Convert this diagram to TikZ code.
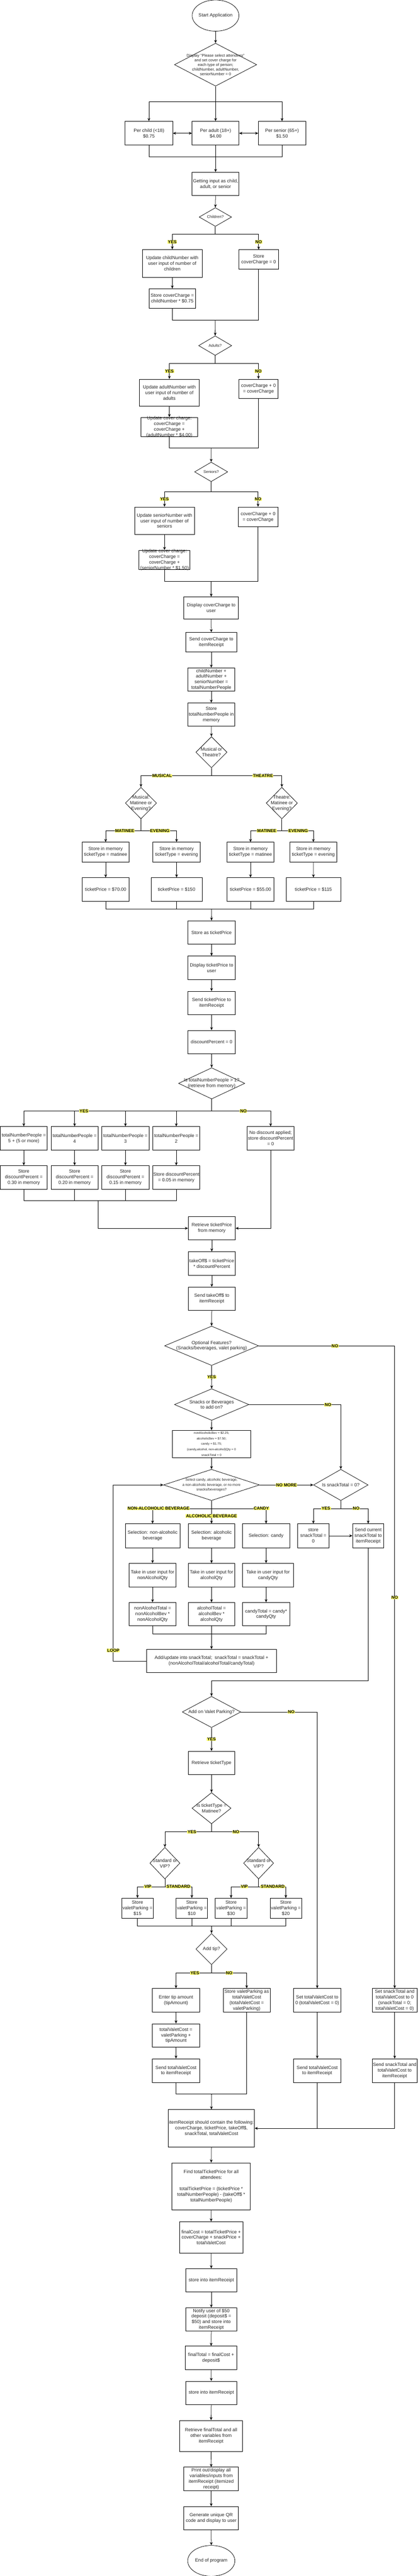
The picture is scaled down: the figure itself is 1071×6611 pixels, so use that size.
\documentclass[tikz,border=0pt]{standalone}
\usepackage{fontspec}
\setmainfont{Liberation Sans}
\usetikzlibrary{arrows.meta,shapes.geometric}
\definecolor{hilite}{RGB}{255,255,102}

\begin{document}
\begin{tikzpicture}[x=1pt, y=-1pt, line width=1pt,
  every node/.style={text=black!85},
  box/.style n args={2}{draw=black, rectangle, minimum width=#1, minimum height=#2, inner sep=0pt, align=center, font=\fontsize{12}{14.4}\selectfont},
  dec/.style n args={2}{draw=black, diamond, minimum width=#1, minimum height=#2, inner sep=0pt},
  oval/.style n args={2}{draw=black, ellipse, minimum width=#1, minimum height=#2, inner sep=0pt},
  txt/.style={align=center, inner sep=0pt, font=\fontsize{12}{14.4}\selectfont},
  small/.style={font=\fontsize{10}{12}\selectfont},
  lbl/.style={fill=hilite, text=black, inner xsep=1pt, inner ysep=0.5pt, font=\bfseries\fontsize{11}{13}\selectfont},
  arr/.style={-{Stealth[length=8pt, width=7pt]}},
  dbl/.style={{Stealth[length=8pt, width=7pt]}-{Stealth[length=8pt, width=7pt]}}
]
\path[use as bounding box, fill=white] (0,0) rectangle (1071,6611);

% cover charge
\node[oval={120}{80}, label={[txt]center:Start Application}] (st) at (553,40) {};
\node[dec={211}{110}, label={[txt,small]center:Display "Please select attendees"\\and set cover charge for\\each type of person;\\childNumber, adultNumber,\\seniorNumber = 0}] (d1) at (553,166) {};
\node[box={122}{61}] (pc) at (382,342) {Per child (<18)\\\$0.75};
\node[box={120}{61}] (pa) at (553,342) {Per adult (18+)\\\$4.00};
\node[box={121}{61}] (ps) at (723.5,342) {Per senior (65+)\\\$1.50};
\coordinate (j1) at (553,402);
\node[box={120}{60}] (gi) at (553,472) {Getting input as child,\\adult, or senior};
\node[dec={83}{48}, label={[txt,small]center:Children?}] (ch) at (552.5,557) {};
\node[box={154}{71}] (uc) at (442,676) {Update childNumber with\\user input of number of\\children};
\node[box={101}{50}] (c0) at (663.5,666) {Store\\coverCharge = 0};
\node[box={120}{50}] (c1) at (442,766) {Store coverCharge =\\childNumber * \$0.75};
\coordinate (j2) at (552.5,821.7);
\node[dec={85}{50}, label={[txt,small]center:Adults?}] (ad) at (552,887) {};
\node[box={153}{70}] (ua) at (434.5,1008) {Update adultNumber with\\user input of number of\\adults};
\node[box={101}{50}] (a0) at (663,998) {coverCharge + 0\\= coverCharge};
\node[box={146}{50}, label={[txt]center:Update cover charge:\\coverCharge =\\coverCharge +\\(adultNumber * \$4.00)}] (a1) at (434.5,1096) {};
\coordinate (j3) at (541.8,1150);
\node[dec={85}{50}, label={[txt,small]center:Seniors?}] (se) at (541.7,1211) {};
\node[box={154}{71}] (us) at (422,1336.5) {Update seniorNumber with\\user input of number of\\seniors};
\node[box={101}{51}] (s0) at (662,1326.5) {coverCharge + 0\\= coverCharge};
\node[box={131}{50}, label={[txt]center:Update cover charge:\\coverCharge =\\coverCharge +\\(seniorNumber * \$1.50)}] (s1) at (422,1437) {};
\coordinate (j4) at (541.8,1492);
\node[box={140}{56}] (dc) at (541.8,1560) {Display coverCharge to\\user};
\node[box={131}{50}] (sc) at (542,1648) {Send coverCharge to\\itemReceipt};
\node[box={120}{60}] (tn) at (542,1744) {childNumber +\\adultNumber +\\seniorNumber =\\totalNumberPeople};
\node[box={120}{60}] (sm) at (542,1834) {Store\\totalNumberPeople in\\memory};

% ticket type and price
\node[dec={80}{80}, label={[txt]center:Musical or\\Theatre?}] (mt) at (542.4,1930.5) {};
\node[dec={80}{81}, label={[txt]center:Musical:\\Matinee or\\Evening?}] (md) at (361.6,2061) {};
\node[dec={80}{81}, label={[txt]center:Theatre:\\Matinee or\\Evening?}] (td) at (723,2061) {};
\node[box={121}{51}] (m1) at (271,2187) {Store in memory\\ticketType = matinee};
\node[box={121}{51}] (m2) at (453,2187) {Store in memory\\ticketType = evening};
\node[box={121}{51}] (t1) at (642.6,2187) {Store in memory\\ticketType = matinee};
\node[box={121}{51}] (t2) at (803.8,2187) {Store in memory\\ticketType = evening};
\node[box={121}{60}] (p1) at (271,2282.4) {ticketPrice = \$70.00};
\node[box={131}{60}] (p2) at (453,2282.4) {ticketPrice = \$150};
\node[box={121}{60}] (p3) at (642.6,2282.4) {ticketPrice = \$55.00};
\node[box={140}{60}] (p4) at (804,2282.4) {ticketPrice = \$115};
\coordinate (j5) at (542.4,2332.3);
\node[box={121}{60}] (tp) at (542.7,2393) {Store as ticketPrice};
\node[box={121}{60}] (dt) at (542.7,2483.5) {Display ticketPrice to\\user};
\node[box={121}{60}] (stp) at (542.7,2574) {Send ticketPrice to\\itemReceipt};
\node[box={121}{60}] (dp) at (542.7,2674.3) {discountPercent = 0};

% discount
\node[dec={170}{80}, label={[txt]center:Is totalNumberPeople > 1?\\(retrieve from memory)}] (q5) at (543,2780.3) {};
\node[box={120}{60}] (d5) at (61,2921.2) {totalNumberPeople =\\5 + (5 or more)};
\node[box={121}{60}] (d4) at (191.4,2921.2) {totalNumberPeople =\\4};
\node[box={121}{60}] (d3) at (321.8,2921.2) {totalNumberPeople =\\3};
\node[box={121}{60}] (d2) at (452.2,2921.2) {totalNumberPeople =\\2};
\node[box={121}{60}] (dn) at (694.2,2921.2) {No discount applied;\\store discountPercent\\= 0};
\node[box={120}{61}] (e5) at (61,3021.8) {Store\\discountPercent =\\0.30 in memory};
\node[box={121}{61}] (e4) at (191.4,3021.8) {Store\\discountPercent =\\0.20 in memory};
\node[box={121}{61}] (e3) at (321.8,3021.8) {Store\\discountPercent =\\0.15 in memory};
\node[box={121}{61}] (e2) at (452.2,3021.8) {Store discountPercent\\= 0.05 in memory};
\coordinate (j6) at (251.7,3081.8);
\node[box={121}{60}] (ret) at (543.3,3152.2) {Retrieve ticketPrice\\from memory};
\node[box={121}{60}] (tko) at (543.3,3242.5) {takeOff\$ = ticketPrice\\* discountPercent};
\node[box={121}{60}] (sto) at (543.3,3333.2) {Send takeOff\$ to\\itemReceipt};

% snacks and beverages
\node[dec={241}{101}, label={[txt]center:Optional Features?\\(Snacks/beverages, valet parking)}] (opt) at (542.8,3453.8) {};
\node[dec={191}{81}, label={[txt]center:Snacks or Beverages\\to add on?}] (snk) at (543,3604.6) {};
\node[box={201}{70}, font=\fontsize{8}{14}\selectfont] (nab) at (542.6,3705.8) {nonAlcoholicBev = \$2.25;\\alcoholicBev = \$7.50;\\candy = \$1.75;\\(candy,alcohol, non-alcohol)Qty = 0\\snackTotal = 0};
\node[dec={246}{80}, label={[txt,font=\fontsize{9}{13}\selectfont]center:Select candy, alcoholic beverage,\\a non-alcoholic beverage, or no more\\snacks/beverages?}] (sel) at (542.6,3810.9) {};
\node[dec={140}{80}, label={[txt]center:Is snackTotal = 0?}] (stz) at (874.3,3810.9) {};
\node[box={80}{61}] (sz0) at (803.8,3941.3) {store\\snackTotal =\\0};
\node[box={80}{61}] (snd) at (944.5,3941.3) {Send current\\snackTotal to\\itemReceipt};
\node[box={140}{61}] (s1a) at (391.4,3941.3) {Selection: non-alcoholic\\beverage};
\node[box={120}{61}] (s2a) at (542.6,3941.3) {Selection: alcoholic\\beverage};
\node[box={121}{61}] (s3a) at (682.6,3941.3) {Selection: candy};
\node[box={121}{60}] (i1) at (391.4,4042.2) {Take in user input for\\nonAlcoholQty};
\node[box={120}{60}] (i2) at (542.6,4042.2) {Take in user input for\\alcoholQty};
\node[box={131}{60}] (i3) at (687.6,4042.2) {Take in user input for\\candyQty};
\node[box={121}{60}] (q1) at (391.4,4142.6) {nonAlcoholTotal =\\nonAlcoholBev *\\nonAlcoholQty};
\node[box={120}{60}] (q2) at (542.6,4142.6) {alcoholTotal =\\alcoholBev *\\alcoholQty};
\node[box={121}{60}] (q3) at (682.6,4142.6) {candyTotal = candy*\\candyQty};
\coordinate (j7) at (542.6,4193);
\node[box={332}{60}] (add) at (542.6,4262.7) {Add/update into snackTotal;~ snackTotal = snackTotal +\\(nonAlcoholTotal/alcoholTotal/candyTotal)};

% valet parking
\node[dec={150}{80}, label={[txt]center:Add on Valet Parking?}] (val) at (542.6,4393.5) {};
\node[box={120}{60}] (rtt) at (542.6,4524.2) {Retrieve ticketType};
\node[dec={100}{80}, label={[txt]center:Is ticketType =\\Matinee?}] (tt) at (542.6,4640.5) {};
\node[dec={77}{81}, label={[txt]center:Standard or\\VIP?}] (sv1) at (423,4781.5) {};
\node[dec={77}{81}, label={[txt]center:Standard or\\VIP?}] (sv2) at (663.4,4781.5) {};
\node[box={81}{51}] (v15) at (352.7,4897) {Store\\valetParking =\\\$15};
\node[box={81}{51}] (v10) at (492.1,4897) {Store\\valetParking =\\\$10};
\node[box={81}{51}] (v30) at (592.8,4897) {Store\\valetParking =\\\$30};
\node[box={81}{51}] (v20) at (733.2,4897) {Store\\valetParking =\\\$20};
\coordinate (j8) at (542.6,4942.5);
\node[dec={80}{80}, label={[txt]center:Add tip?}] (adt) at (542.6,5002) {};
\node[box={121}{60}] (et) at (451.5,5133.2) {Enter tip amount\\(tipAmount)};
\node[box={120}{60}] (svp) at (632.9,5133.2) {Store valetParking as\\totalValetCost\\(totalValetCost =\\valetParking)};
\node[box={121}{60}] (tvc) at (451.5,5223.5) {totalValetCost =\\valetParking +\\tipAmount};
\node[box={121}{61}] (stc) at (451.5,5314.1) {Send totalValetCost\\to itemReceipt};
\coordinate (j9) at (542.6,5374);
\node[box={121}{60}] (vz) at (813.8,5133.2) {Set totalValetCost to\\0 (totalValetCost = 0)};
\node[box={121}{61}] (vz2) at (813.8,5314.1) {Send totalValetCost\\to itemReceipt};
\node[box={116}{60}] (sz) at (1012.5,5133.2) {Set snackTotal and\\totalValetCost to 0\\(snackTotal = 0;\\totalValetCost = 0)};
\node[box={116}{61}] (sz2) at (1012.5,5314.1) {Send snackTotal and\\totalValetCost to\\itemReceipt};

% totals and receipt
\node[box={221}{96}] (rcp) at (542.3,5462) {itemReceipt should contain the following:\\coverCharge, ticketPrice, takeOff\$,\\snackTotal, totalValetCost};
\node[box={201}{121}] (ftp) at (541.8,5611) {Find totalTicketPrice for all\\attendees:\\[14.4pt]totalTicketPrice = (ticketPrice *\\totalNumberPeople) - (takeOff\$ *\\totalNumberPeople)};
\node[box={162}{80}] (fc) at (541.6,5741.8) {finalCost = totalTicketPrice +\\coverCharge + snackPrice +\\totalValetCost};
\node[box={131}{60}] (sir) at (542,5852.1) {store into itemReceipt};
\node[box={131}{60}] (nfy) at (542,5952.5) {Notify user of \$50\\deposit (deposit\$ =\\\$50) and store into\\itemReceipt};
\node[box={132}{60}] (ft) at (541.6,6051) {finalTotal = finalCost +\\deposit\$};
\node[box={131}{60}] (sir2) at (542,6141) {store into itemReceipt};
\node[box={161}{80}] (rft) at (541.4,6251.5) {Retrieve finalTotal and all\\other variables from\\itemReceipt};
\node[box={140}{60}] (prt) at (541.8,6361.7) {Print out/display all\\variables/inputs from\\itemReceipt (itemized\\receipt)};
\node[box={140}{60}] (qr) at (541.8,6462.7) {Generate unique QR\\code and display to user};
\node[oval={121}{79}, label={[txt]center:End of program}] (fin) at (542,6572) {};

% connectors
\draw[arr] (st.south) -- (d1.north);
\draw[arr] (d1.south) -- ++(0,40) -| (pc.north);
\draw[arr] (d1.south) -- ++(0,40) -| (ps.north);
\draw[arr] (d1.south) -- (pa.north);
\draw[dbl] (pc.east) -- (pa.west);
\draw[dbl] (pa.east) -- (ps.west);
\draw (pc.south) |- (j1) -| (ps.south);
\draw[arr] (pa.south) -- (gi.north);
\draw[arr] (gi.south) -- (ch.north);
\draw[arr] (ch.south) -- ++(0,19.5) -| node[lbl, pos=.75] {YES} (uc.north);
\draw[arr] (ch.south) -- ++(0,19.5) -| node[lbl, pos=.75] {NO} (c0.north);
\draw[arr] (uc.south) -- (c1.north);
\draw (c1.south) |- (j2) -| (c0.south);
\draw[arr] (j2) -- (ad.north);
\draw[arr] (ad.south) -- ++(0,20) -| node[lbl, pos=.75] {YES} (ua.north);
\draw[arr] (ad.south) -- ++(0,20) -| node[lbl, pos=.75] {NO} (a0.north);
\draw[arr] (ua.south) -- (a1.north);
\draw (a1.south) |- (j3) -| (a0.south);
\draw[arr] (j3) -- (se.north);
\draw[arr] (se.south) -- ++(0,25.5) -| node[lbl, pos=.75] {YES} (us.north);
\draw[arr] (se.south) -- ++(0,25.5) -| node[lbl, pos=.75] {NO} (s0.north);
\draw[arr] (us.south) -- (s1.north);
\draw (s1.south) |- (j4) -| (s0.south);
\draw[arr] (j4) -- (dc.north);
\draw[arr] (dc.south) -- (sc.north);
\draw[arr] (sc.south) -- (tn.north);
\draw[arr] (tn.south) -- (sm.north);
\draw[arr] (sm.south) -- (mt.north);

\draw[arr] (mt.south) -- ++(0,20) -| node[lbl, pos=.35] {MUSICAL} (md.north);
\draw[arr] (mt.south) -- ++(0,20) -| node[lbl, pos=.366] {THEATRE} (td.north);
\draw[arr] (md.south) -- ++(0,30) -| node[lbl, pos=.23] {MATINEE} (m1.north);
\draw[arr] (md.south) -- ++(0,30) -| node[lbl, pos=.265] {EVENING} (m2.north);
\draw[arr] (td.south) -- ++(0,30) -| node[lbl, pos=.24] {MATINEE} (t1.north);
\draw[arr] (td.south) -- ++(0,30) -| node[lbl, pos=.26] {EVENING} (t2.north);
\draw[arr] (m1.south) -- (p1.north);
\draw[arr] (m2.south) -- (p2.north);
\draw[arr] (t1.south) -- (p3.north);
\draw[arr] (t2.south) -- (p4.north);
\draw (p1.south) |- (j5) -| (p4.south);
\draw (p2.south) -- (p2.south |- j5);
\draw (p3.south) -- (p3.south |- j5);
\draw[arr] (j5) -- (tp.north);
\draw[arr] (tp.south) -- (dt.north);
\draw[arr] (dt.south) -- (stp.north);
\draw[arr] (stp.south) -- (dp.north);
\draw[arr] (dp.south) -- (q5.north);

\draw[arr] (q5.south) -- ++(0,30.2) -| (d4.north);
\draw[arr] (q5.south) -- ++(0,30.2) -| (d3.north);
\draw[arr] (q5.south) -- ++(0,30.2) -| (d2.north);
\draw[arr] (q5.south) -- ++(0,30.2) -| node[lbl, pos=.34] {YES} (d5.north);
\draw[arr] (q5.south) -- ++(0,30.2) -| node[lbl, pos=.27] {NO} (dn.north);
\draw[arr] (d5.south) -- (e5.north);
\draw[arr] (d4.south) -- (e4.north);
\draw[arr] (d3.south) -- (e3.north);
\draw[arr] (d2.south) -- (e2.north);
\draw (e5.south) |- (j6) -| (e2.south);
\draw (e4.south) -- (e4.south |- j6);
\draw (e3.south) -- (e3.south |- j6);
\draw[arr] (j6) |- (ret.west);
\draw[arr] (dn.south) |- (ret.east);
\draw[arr] (ret.south) -- (tko.north);
\draw[arr] (tko.south) -- (sto.north);
\draw[arr] (sto.south) -- (opt.north);

\draw[arr] (opt.south) -- node[lbl] {YES} (snk.north);
\draw[arr] (opt.east) -| node[lbl, pos=.28] {NO} node[lbl, pos=.696] {NO} (sz.north);
\draw[arr] (snk.south) -- (nab.north);
\draw[arr] (snk.east) -| node[lbl, pos=.43] {NO} (stz.north);
\draw[arr] (nab.south) -- (sel.north);
\draw[arr] (sel.east) -- node[lbl] {NO MORE} (stz.west);
\draw[arr] (sel.south) -- ++(0,20) -| node[lbl, pos=.45] {NON-ALCOHOLIC BEVERAGE} (s1a.north);
\draw[arr] (sel.south) -- ++(0,20) -| node[lbl, pos=.457] {CANDY} (s3a.north);
\draw[arr] (sel.south) -- node[lbl, pos=.67] {ALCOHOLIC BEVERAGE} (s2a.north);
\draw[arr] (s1a.south) -- (i1.north);
\draw[arr] (s2a.south) -- (i2.north);
\draw[arr] (s3a.south) -- (s3a.south |- i3.north);
\draw[arr] (i1.south) -- (q1.north);
\draw[arr] (i2.south) -- (q2.north);
\draw[arr] (q3.north |- i3.south) -- (q3.north);
\draw (q1.south) |- (j7) -| (q3.south);
\draw[arr] (q2.south) -- (add.north);
\draw[arr] (add.west) -- ++(-85.5,0) |- node[lbl, pos=.03] {LOOP} (sel.west);
\draw[arr] (stz.south) -- ++(0,20) -| node[lbl, pos=.27] {YES} (sz0.north);
\draw[arr] (stz.south) -- ++(0,20) -| node[lbl, pos=.28] {NO} (snd.north);
\draw[arr] (sz0.east) -- (snd.west);
\draw[arr] (snd.south) -- ++(0,341.8) -| (val.north);

\draw[arr] (val.south) -- node[lbl] {YES} (rtt.north);
\draw[arr] (val.east) -| node[lbl, pos=.33] {NO} (vz.north);
\draw[arr] (rtt.south) -- (tt.north);
\draw[arr] (tt.south) -- ++(0,20.5) -| node[lbl, pos=.21] {YES} (sv1.north);
\draw[arr] (tt.south) -- ++(0,20.5) -| node[lbl, pos=.26] {NO} (sv2.north);
\draw[arr] (sv1.south) -- ++(0,19.5) -| node[lbl, pos=.31] {VIP} (v15.north);
\draw[arr] (sv1.south) -- ++(0,19.5) -| node[lbl, pos=.25] {STANDARD} (v10.north);
\draw[arr] (sv2.south) -- ++(0,19.5) -| node[lbl, pos=.26] {VIP} (v30.north);
\draw[arr] (sv2.south) -- ++(0,19.5) -| node[lbl, pos=.26] {STANDARD} (v20.north);
\draw (v15.south) |- (j8) -| (v20.south);
\draw (v10.south) -- (v10.south |- j8);
\draw (v30.south) -- (v30.south |- j8);
\draw[arr] (j8) -- (adt.north);
\draw[arr] (adt.south) -- ++(0,21) -| node[lbl, pos=.235] {YES} (et.north);
\draw[arr] (adt.south) -- ++(0,21) -| node[lbl, pos=.25] {NO} (svp.north);
\draw[arr] (et.south) -- (tvc.north);
\draw[arr] (tvc.south) -- (stc.north);
\draw (stc.south) |- (j9) -| (svp.south);
\draw[arr] (j9) -- (rcp.north);
\draw[arr] (vz.south) -- (vz2.north);
\draw[arr] (sz.south) -- (sz2.north);
\draw (vz2.south) -- (vz2.south |- rcp.east);
\draw[arr] (sz2.south) |- (rcp.east);

\draw[arr] (rcp.south) -- (ftp.north);
\draw[arr] (ftp.south) -- (fc.north);
\draw[arr] (fc.south) -- (sir.north);
\draw[arr] (sir.south) -- (nfy.north);
\draw[arr] (nfy.south) -- (ft.north);
\draw[arr] (ft.south) -- (sir2.north);
\draw[arr] (sir2.south) -- (rft.north);
\draw[arr] (rft.south) -- (prt.north);
\draw[arr] (prt.south) -- (qr.north);
\draw[arr] (qr.south) -- (fin.north);
\end{tikzpicture}
\end{document}
